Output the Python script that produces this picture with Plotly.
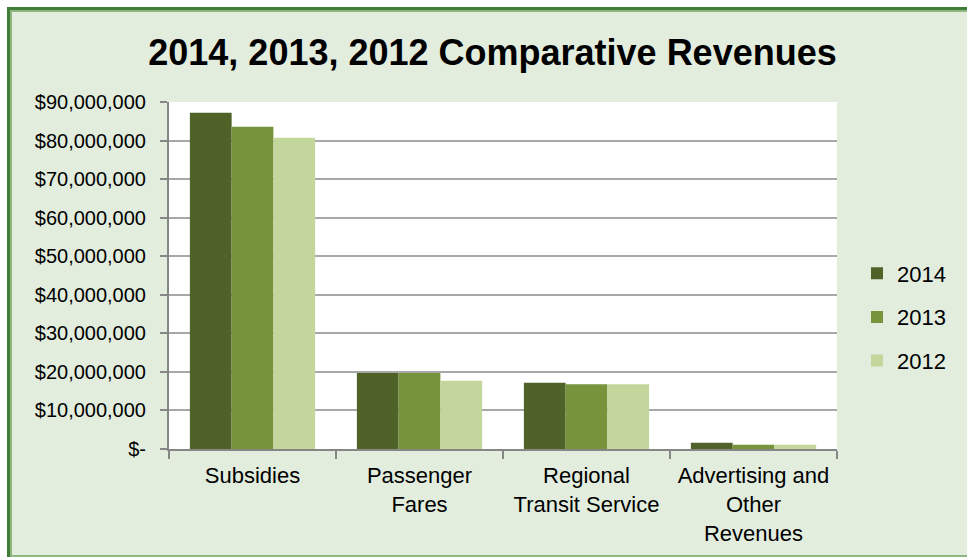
import plotly.graph_objects as go

# Revenue categories and yearly amounts (USD)
categories = ["Subsidies", "Passenger<br>Fares", "Regional<br>Transit Service",
              "Advertising and<br>Other<br>Revenues"]
rev_2014 = [87.2e6, 19.7e6, 17.2e6, 1.6e6]
rev_2013 = [83.6e6, 19.7e6, 16.8e6, 1.1e6]
rev_2012 = [80.7e6, 17.7e6, 16.8e6, 1.1e6]

y_tickvals = [0, 10e6, 20e6, 30e6, 40e6, 50e6, 60e6, 70e6, 80e6, 90e6]
y_ticktext = ["$-", "$10,000,000", "$20,000,000", "$30,000,000", "$40,000,000",
              "$50,000,000", "$60,000,000", "$70,000,000", "$80,000,000", "$90,000,000"]

W, H = 967, 557
L, R, T, B = 169, 130, 102, 108
PW, PH = W - L - R, H - T - B

FONT = "Liberation Sans, Arial, sans-serif"
BG = "#E2EDDE"
GRID = "#A8A8A8"
AXIS = "#868686"


def px_x(p):
    return (p - L) / PW


def px_y(p):
    return (H - B - p) / PH


fig = go.Figure()
series = [("2014", rev_2014, "#4F6228"),
          ("2013", rev_2013, "#77933C"),
          ("2012", rev_2012, "#C3D69B")]
for name, vals, color in series:
    fig.add_trace(go.Bar(x=categories, y=vals, name=name, legendgroup=name,
                         marker=dict(color=color, line=dict(width=0))))

shapes = [
    # white strips outside the frame
    dict(type="rect", xref="paper", yref="paper", x0=px_x(0), x1=px_x(W + 5),
         y0=px_y(7), y1=px_y(-5), fillcolor="white", line=dict(width=0), layer="below"),
    dict(type="rect", xref="paper", yref="paper", x0=px_x(-5), x1=px_x(7),
         y0=px_y(H + 5), y1=px_y(-5), fillcolor="white", line=dict(width=0), layer="below"),
    # double green frame
    dict(type="rect", xref="paper", yref="paper", x0=px_x(8.5), x1=px_x(W + 20),
         y0=px_y(558.5), y1=px_y(8.5), line=dict(color="#3F7D38", width=3), layer="below"),
    dict(type="rect", xref="paper", yref="paper", x0=px_x(11), x1=px_x(W + 20),
         y0=px_y(556), y1=px_y(11), line=dict(color="#8DB981", width=2), layer="below"),
]

fig.update_layout(
    width=W, height=H,
    margin=dict(l=L, r=R, t=T, b=B, pad=0, autoexpand=False),
    paper_bgcolor=BG,
    plot_bgcolor="white",
    barmode="group",
    bargap=0.25,
    bargroupgap=0,
    font=dict(family=FONT, color="black"),
    title=dict(text="<b>2014, 2013, 2012 Comparative Revenues</b>",
               font=dict(size=36, family=FONT, color="black"),
               x=492.5 / W, xref="container", xanchor="center",
               y=(H - 52) / H, yref="container", yanchor="middle"),
    legend=dict(x=px_x(857), xanchor="left", y=px_y(317), yanchor="middle",
                font=dict(size=22, family=FONT), bgcolor="rgba(0,0,0,0)",
                tracegroupgap=12, traceorder="grouped"),
    shapes=shapes,
    xaxis=dict(type="category", showgrid=False, showline=True, linecolor=AXIS,
               linewidth=2, ticks="outside", ticklen=8, tickcolor=AXIS, tickwidth=2,
               tickson="boundaries", tickfont=dict(size=22, family=FONT),
               tickangle=0, automargin=False, ticklabelstandoff=6),
    yaxis=dict(range=[0, 90e6], tickvals=y_tickvals, ticktext=y_ticktext,
               showgrid=True, gridcolor=GRID, gridwidth=1.5,
               showline=True, linecolor=AXIS, linewidth=2,
               ticks="outside", ticklen=7, tickcolor=AXIS, tickwidth=2,
               zeroline=False, tickfont=dict(size=20, family=FONT),
               automargin=False, ticklabelstandoff=10),
)

fig.write_html("out.html")
